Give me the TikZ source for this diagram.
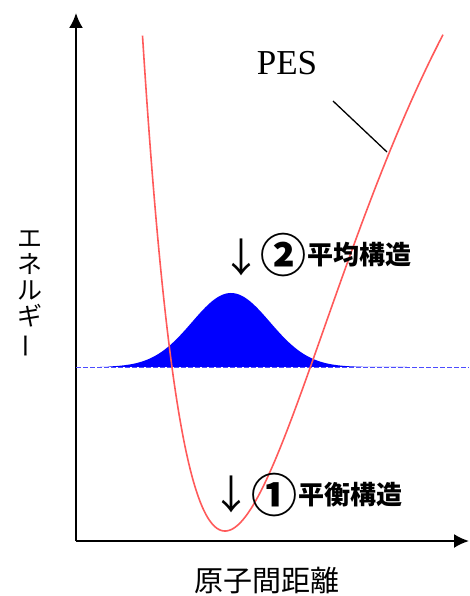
\documentclass[tikz,border=0pt]{standalone}
\usepackage{fontspec}
\setmainfont{Liberation Serif}
\newfontfamily\jpfont{Noto Sans CJK JP}
\usepackage{graphicx}
\usepackage{tikz}
\usetikzlibrary{arrows.meta,positioning}
\definecolor{PESRed}{RGB}{255,90,90}
\definecolor{WaveBlue}{RGB}{0,0,255}

\begin{document}
\begin{tikzpicture}[x=1pt,y=-1pt,>=Latex,every node/.style={inner sep=0pt}]
\tikzset{axis/.style={line width=2pt,-{Latex[length=15pt,width=14pt]}},pes/.style={draw=PESRed,line width=1.6pt},
downarr/.style={font=\jpfont\fontsize{40}{40}\selectfont},circnum/.style={font=\jpfont\bfseries\fontsize{46}{46}\selectfont},
kanjib/.style={font=\jpfont\bfseries\fontsize{26}{26}\selectfont}}
\useasboundingbox (0,0) rectangle (469,596);
% axes
\coordinate (orig) at (76,541);
\coordinate (ytop) at (76,13);
\coordinate (xend) at (469,541);
\draw[axis] (orig)--(ytop);
\draw[axis] (orig)--(xend);
% wave packet and its level
\fill[WaveBlue] plot[domain=100:410,samples=160] (\x,{367-74*exp(-((\x-231)/39)^2/2)}) -- cycle;
\coordinate (lvlL) at (76,367);
\coordinate (lvlR) at (469,367);
\draw[WaveBlue!70,line width=0.9pt,dash pattern=on 5pt off 2pt] (lvlL)--(lvlR);
% potential energy surface
\draw[pes] plot[domain=142.5:443,samples=220] (\x,{531-810*(1-exp(-0.007*(\x-225)))^2});
\node[font=\fontsize{35}{35}\selectfont] (pes) at (287,63) {PES};
\coordinate (leadA) at (333,101);
\coordinate (leadB) at (387,152);
\draw[line width=1.3pt] (leadA)--(leadB);
% labels
\node[downarr] (arrAvg) at (241,257) {↓};
\node[circnum] (numAvg) at (283,255) {②};
\node[kanjib,right=1pt of numAvg] (txtAvg) {平均構造};
\node[downarr] (arrEq) at (231,494) {↓};
\node[circnum] (numEq) at (274,495) {①};
\node[kanjib,right=1pt of numEq] (txtEq) {平衡構造};
\node[font=\jpfont\fontsize{29}{29}\selectfont] (xlab) at (267,581) {原子間距離};
\node[align=center,font=\jpfont\fontsize{25}{26}\selectfont] (ylab) at (30,295) {エ\\ネ\\ル\\ギ\\\rotatebox[origin=c]{90}{ー}};
\end{tikzpicture}
\end{document}
